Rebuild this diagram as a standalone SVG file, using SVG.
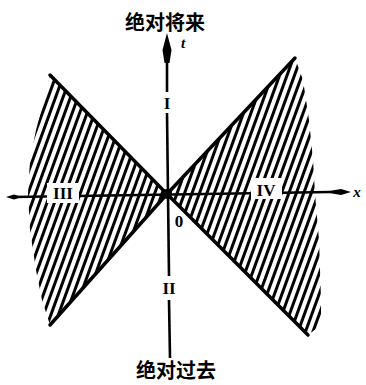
<svg xmlns="http://www.w3.org/2000/svg" width="366" height="385" viewBox="0 0 366 385">
<defs>
<pattern id="hatch" patternUnits="userSpaceOnUse" width="7" height="20" patternTransform="rotate(20)">
<rect x="0" y="0" width="3" height="20" fill="#000"/>
</pattern>
<style>
.edge{stroke:#000;stroke-width:3.5;stroke-linecap:round;fill:none}
.axis{stroke:#000;stroke-width:2.6;fill:none}
.cjk{font-family:"Noto Sans CJK SC","Noto Sans CJK TC",sans-serif;font-weight:bold;font-size:20px;fill:#000}
.rom{font-family:"Liberation Serif",serif;font-weight:bold;font-size:17px;fill:#000}
.var{font-family:"Liberation Serif",serif;font-style:italic;font-weight:bold;font-size:15px;fill:#000}
</style>
</defs>
<rect width="366" height="385" fill="#fff"/>
<g id="wedge-left">
<polygon points="167,194 50,75 44,100 36,130 30,160 28,194 30,230 36,270 42,300 50,325" fill="url(#hatch)"/>
<path class="edge" d="M50,75 L167,194 L50,325"/>
</g>
<g id="wedge-right">
<polygon points="167,194 295,58 303,80 309,120 313,160 315,194 319,240 321,300 321,325 308,335" fill="url(#hatch)"/>
<path class="edge" d="M295,58 L167,194 L308,335"/>
</g>
<circle cx="167" cy="194" r="5" fill="#000"/>
<g id="connectors">
<line class="axis" x1="14" y1="197" x2="330" y2="192"/>
<path d="M6,197 L14,194.5 L22,197 L14,199.5 Z" fill="#000"/>
<path d="M323,192 L341,189 L351,192 L341,195 Z" fill="#000"/>
<line class="axis" x1="167" y1="55" x2="167" y2="92"/>
<line class="axis" x1="167" y1="113" x2="169" y2="276"/>
<line class="axis" x1="169" y1="300" x2="170" y2="358"/>
<path d="M167,33 L171.5,50 L169.5,63 L164.5,63 L162.5,50 Z" fill="#000"/>
</g>
<rect x="47" y="183" width="32" height="20" fill="#fff"/>
<rect x="251" y="178" width="31" height="21" fill="#fff"/>
<rect x="159" y="93" width="16" height="19" fill="#fff"/>
<rect x="159" y="277" width="20" height="22" fill="#fff"/>
<g id="labels">
<text class="cjk" x="165" y="30" text-anchor="middle">绝对将来</text>
<text class="cjk" x="176" y="378" text-anchor="middle" font-size="19">绝对过去</text>
<text class="var" x="183" y="48" text-anchor="middle">t</text>
<text class="var" x="357" y="197" text-anchor="middle">x</text>
<text class="rom" x="167" y="109" text-anchor="middle">I</text>
<text class="rom" x="169" y="294" text-anchor="middle">II</text>
<text class="rom" x="63" y="199" text-anchor="middle">III</text>
<text class="rom" x="266" y="196" text-anchor="middle">IV</text>
<text class="rom" x="179" y="227" text-anchor="middle" font-weight="normal">0</text>
</g>
</svg>
